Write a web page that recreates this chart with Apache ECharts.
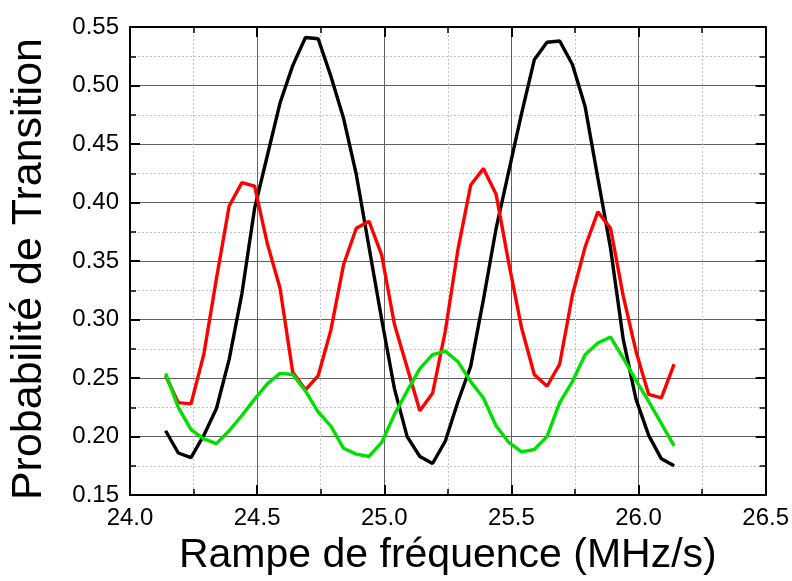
<!DOCTYPE html>
<html>
<head>
<meta charset="utf-8">
<script src="https://cdn.jsdelivr.net/npm/echarts@6/dist/echarts.min.js"></script>
<style>
html,body{margin:0;padding:0;background:#fff;}
#c{width:792px;height:581px;}
</style>
</head>
<body>
<div id="c"></div>
<script>
const rampe = [24.14, 24.19, 24.24, 24.29, 24.34, 24.39, 24.44, 24.49, 24.54, 24.59,
  24.64, 24.69, 24.74, 24.79, 24.84, 24.89, 24.94, 24.99, 25.04, 25.09,
  25.14, 25.19, 25.24, 25.29, 25.34, 25.39, 25.44, 25.49, 25.54, 25.59,
  25.64, 25.69, 25.74, 25.79, 25.84, 25.89, 25.94, 25.99, 26.04, 26.09, 26.14];
const noir = [0.205, 0.186, 0.182, 0.201, 0.224, 0.266, 0.322, 0.395, 0.440, 0.485,
  0.517, 0.541, 0.540, 0.508, 0.472, 0.424, 0.362, 0.300, 0.241, 0.200,
  0.183, 0.177, 0.196, 0.230, 0.260, 0.317, 0.378, 0.427, 0.476, 0.522,
  0.537, 0.538, 0.518, 0.482, 0.421, 0.361, 0.283, 0.232, 0.201, 0.181, 0.175];
const rouge = [0.252, 0.229, 0.228, 0.270, 0.335, 0.397, 0.417, 0.414, 0.365, 0.327,
  0.255, 0.240, 0.252, 0.291, 0.347, 0.378, 0.384, 0.355, 0.296, 0.259,
  0.222, 0.237, 0.290, 0.360, 0.415, 0.429, 0.407, 0.348, 0.293, 0.253,
  0.243, 0.262, 0.321, 0.362, 0.392, 0.378, 0.320, 0.273, 0.236, 0.233, 0.262];
const vert = [0.254, 0.225, 0.206, 0.198, 0.194, 0.205, 0.218, 0.232, 0.245, 0.254,
  0.253, 0.239, 0.221, 0.209, 0.190, 0.185, 0.183, 0.195, 0.219, 0.239,
  0.258, 0.270, 0.273, 0.264, 0.247, 0.233, 0.209, 0.195, 0.187, 0.189,
  0.200, 0.229, 0.247, 0.270, 0.280, 0.285, 0.267, 0.248, 0.230, 0.211, 0.192];
const xTitle = 'Rampe de fréquence (MHz/s)';
const yTitle = 'Probabilité de Transition';

const FONT = '"Liberation Sans", Arial, sans-serif';
function pairs(ys){ return rampe.map((x,i)=>[x, ys[i]]); }

const axisLine = {show:true, onZero:false, lineStyle:{color:'#000', width:2}};
const axisTick = {show:true, inside:true, length:10, lineStyle:{color:'#000', width:2}};
const minorTick = {show:true, splitNumber:2, length:6, lineStyle:{color:'#000', width:1.5}};
const splitLine = {show:true, lineStyle:{color:'#606060', width:1}};
const minorSplitLine = {show:true, lineStyle:{color:'#c0c0c0', width:1, type:[2,2]}};

const chart = echarts.init(document.getElementById('c'), null, {renderer:'canvas'});
chart.setOption({
  animation:false,
  backgroundColor:'#fff',
  grid:{left:124, top:27, right:24, bottom:83, containLabel:false},
  xAxis:[{
    type:'value', min:24, max:26.5, interval:0.5, position:'bottom',
    axisLine, axisTick, minorTick, splitLine, minorSplitLine,
    axisLabel:{color:'#000', fontFamily:FONT, fontSize:24, margin:11,
      formatter:v=>v.toFixed(1)},
    name:xTitle, nameLocation:'middle', nameGap:34,
    nameTextStyle:{color:'#000', fontFamily:FONT, fontSize:41}
  },{
    type:'value', min:24, max:26.5, interval:0.5, position:'top',
    axisLine, axisTick, minorTick, splitLine:{show:false}, minorSplitLine:{show:false},
    axisLabel:{show:false}
  }],
  yAxis:[{
    type:'value', min:0.15, max:0.55, interval:0.05, position:'left',
    axisLine, axisTick, minorTick, splitLine, minorSplitLine,
    axisLabel:{color:'#000', fontFamily:FONT, fontSize:24, margin:11,
      formatter:v=>v.toFixed(2)},
    name:yTitle, nameLocation:'middle', nameGap:79, nameRotate:90,
    nameTextStyle:{color:'#000', fontFamily:FONT, fontSize:43, padding:[0,16,0,0]}
  },{
    type:'value', min:0.15, max:0.55, interval:0.05, position:'right',
    axisLine, axisTick, minorTick, splitLine:{show:false}, minorSplitLine:{show:false},
    axisLabel:{show:false}
  }],
  series:[
    {type:'line', data:pairs(noir), showSymbol:false, lineStyle:{color:'#000', width:3.4}, itemStyle:{color:'#000'}, z:3},
    {type:'line', data:pairs(rouge), showSymbol:false, lineStyle:{color:'#ff0000', width:3.4}, itemStyle:{color:'#ff0000'}, z:4},
    {type:'line', data:pairs(vert), showSymbol:false, lineStyle:{color:'#00e000', width:3.4}, itemStyle:{color:'#00e000'}, z:5}
  ]
});
</script>
</body>
</html>
